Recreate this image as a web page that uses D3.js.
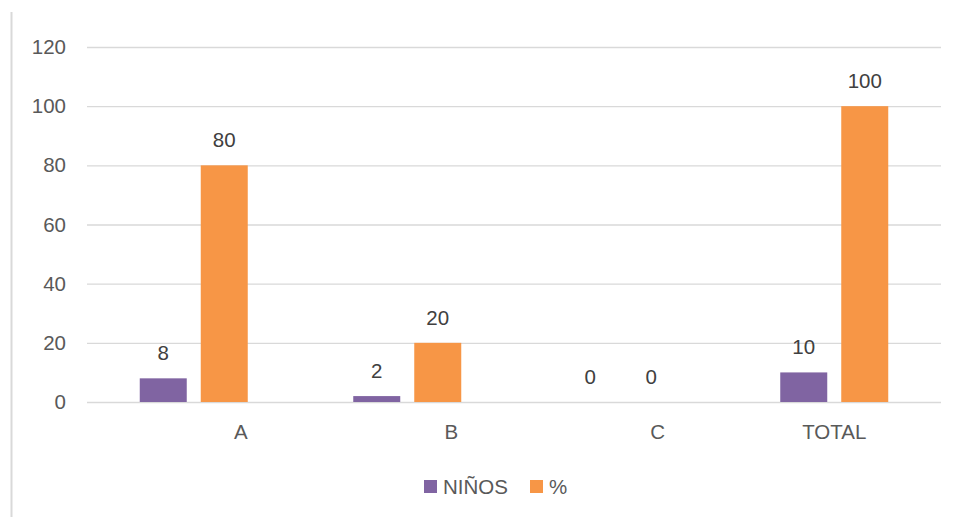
<!DOCTYPE html>
<html>
<head>
<meta charset="utf-8">
<script src="https://cdn.jsdelivr.net/npm/d3@7"></script>
<style>
  html, body { margin: 0; padding: 0; background: #fff; }
  svg { display: block; font-family: "Liberation Sans", Arial, sans-serif; }
</style>
</head>
<body>
<svg id="chart" width="956" height="517"></svg>
<script>
const categories = ["A", "B", "C", "TOTAL"];
const seriesNames = ["NIÑOS", "%"];
const ninos = [8, 2, 0, 10];
const pct = [80, 20, 0, 100];
const yTicks = [0, 20, 40, 60, 80, 100, 120];

const colors = ["#8064A2", "#F79646"];
const textColor = "#595959";
const gridColor = "#d9d9d9";
const fontSize = 20.5;

const svg = d3.select("#chart");
const W = 956, H = 517;
const plot = { left: 87, right: 941, top: 47, bottom: 402 };

// outer frame line at left
svg.append("line")
  .attr("x1", 11.5).attr("x2", 11.5).attr("y1", 12).attr("y2", H)
  .attr("stroke", "#d9d9d9").attr("stroke-width", 2);

const x = d3.scaleBand().domain(categories).range([plot.left, plot.right]).paddingInner(0).paddingOuter(0);
const y = d3.scaleLinear().domain([0, 120]).range([plot.bottom, plot.top]);
const barW = 47, gap = 14;
const inner = d3.scaleBand().domain(seriesNames)
  .range([-(barW + gap / 2), barW + gap / 2]).paddingInner(gap / (barW + gap)).paddingOuter(0);

// gridlines
const yAxis = d3.axisLeft(y).tickValues(yTicks).tickSize(-(plot.right - plot.left)).tickPadding(21);
const gy = svg.append("g").attr("transform", `translate(${plot.left},0)`).call(yAxis);
gy.select(".domain").remove();
gy.selectAll(".tick line").attr("stroke", gridColor).attr("stroke-width", 1.3);
gy.selectAll(".tick text").attr("fill", textColor).attr("font-size", fontSize)
  .attr("font-family", "Liberation Sans, Arial, sans-serif");

// x axis labels (offsets mimic the original label placement)
const labelDx = { "A": 47, "B": 44, "C": 37, "TOTAL": 0 };
const xAxis = d3.axisBottom(x).tickSize(0).tickPadding(22);
const gx = svg.append("g").attr("transform", `translate(0,${plot.bottom})`).call(xAxis);
gx.select(".domain").remove();
gx.selectAll(".tick text").attr("fill", textColor).attr("font-size", fontSize)
  .attr("font-family", "Liberation Sans, Arial, sans-serif")
  .attr("dx", d => labelDx[d]);

const series = [ninos, pct];
const groups = svg.append("g");
series.forEach((vals, si) => {
  const name = seriesNames[si];
  const g = groups.append("g");
  g.selectAll("rect").data(categories).join("rect")
    .attr("x", (c) => x(c) + x.bandwidth() / 2 + inner(name))
    .attr("width", inner.bandwidth())
    .attr("y", (c, i) => y(vals[i]))
    .attr("height", (c, i) => y(0) - y(vals[i]))
    .attr("fill", colors[si]);
  g.selectAll("text").data(categories).join("text")
    .attr("x", (c) => x(c) + x.bandwidth() / 2 + inner(name) + inner.bandwidth() / 2)
    .attr("y", (c, i) => y(vals[i]) - 18)
    .attr("text-anchor", "middle")
    .attr("fill", "#404040")
    .attr("font-size", fontSize)
    .text((c, i) => vals[i]);
});

// legend
const legend = svg.append("g");
const legendItems = [
  { name: seriesNames[0], color: colors[0], x: 424 },
  { name: seriesNames[1], color: colors[1], x: 530 }
];
legendItems.forEach(it => {
  legend.append("rect").attr("x", it.x).attr("y", 480).attr("width", 13).attr("height", 13).attr("fill", it.color);
  legend.append("text").attr("x", it.x + 19).attr("y", 494)
    .attr("fill", textColor).attr("font-size", fontSize).text(it.name);
});
</script>
</body>
</html>
